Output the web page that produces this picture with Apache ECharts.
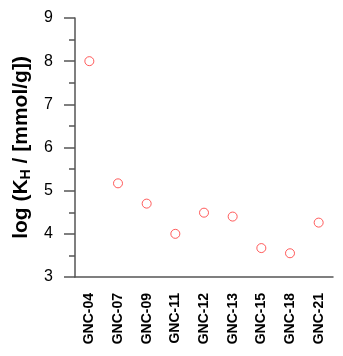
<!doctype html>
<html>
<head>
<meta charset="UTF-8">
<title>log KH</title>
<script src="https://cdn.jsdelivr.net/npm/echarts@6/dist/echarts.min.js"></script>
<style>
  html, body { margin: 0; padding: 0; background: #fff; }
  #main { width: 343px; height: 356px; }
</style>
</head>
<body>
<div id="main"></div>
<script>
// categories and values
var samples = ['GNC-04','GNC-07','GNC-09','GNC-11','GNC-12','GNC-13','GNC-15','GNC-18','GNC-21'];
var logKH = [8.00, 5.17, 4.70, 4.00, 4.49, 4.40, 3.67, 3.55, 4.26];
var yTicks = [3, 4, 5, 6, 7, 8, 9];

var myChart = echarts.init(document.getElementById('main'));
var axisColor = '#555';
var option = {
    animation: false,
    grid: { left: 75, right: 10, top: 18, bottom: 79 },
    xAxis: {
        type: 'category',
        data: samples,
        boundaryGap: true,
        axisLine: { lineStyle: { color: axisColor, width: 1.5 } },
        axisTick: { alignWithLabel: true, length: 8, lineStyle: { color: axisColor, width: 1.5 } },
        axisLabel: {
            rotate: 90, margin: 16, color: '#000',
            fontFamily: 'Liberation Sans', fontWeight: 'bold', fontSize: 14
        }
    },
    yAxis: {
        type: 'value',
        min: yTicks[0], max: yTicks[yTicks.length - 1], interval: 1,
        name: '{a|log (K}{s|H}{a| / [mmol/g])}',
        nameLocation: 'middle',
        nameGap: 40,
        nameTextStyle: {
            rich: {
                a: { fontFamily: 'Liberation Sans', fontWeight: 'bold', fontSize: 21, color: '#000' },
                s: { fontFamily: 'Liberation Sans', fontWeight: 'bold', fontSize: 14, color: '#000', verticalAlign: 'bottom', padding: [10, 0, 0, 0] }
            }
        },
        axisLine: { show: true, lineStyle: { color: axisColor, width: 1.5 } },
        axisTick: { show: true, length: 11, lineStyle: { color: axisColor, width: 1.5 } },
        minorTick: { show: true, splitNumber: 2, length: 6, lineStyle: { color: axisColor, width: 1.5 } },
        splitLine: { show: false },
        axisLabel: { margin: 22, color: '#000', fontFamily: 'Liberation Sans', fontSize: 16 }
    },
    series: [{
        type: 'scatter',
        data: logKH,
        symbol: 'circle',
        symbolSize: 9,
        itemStyle: { color: 'rgba(0,0,0,0)', borderColor: '#ff3333', borderWidth: 1 }
    }]
};
myChart.setOption(option);
</script>
</body>
</html>
